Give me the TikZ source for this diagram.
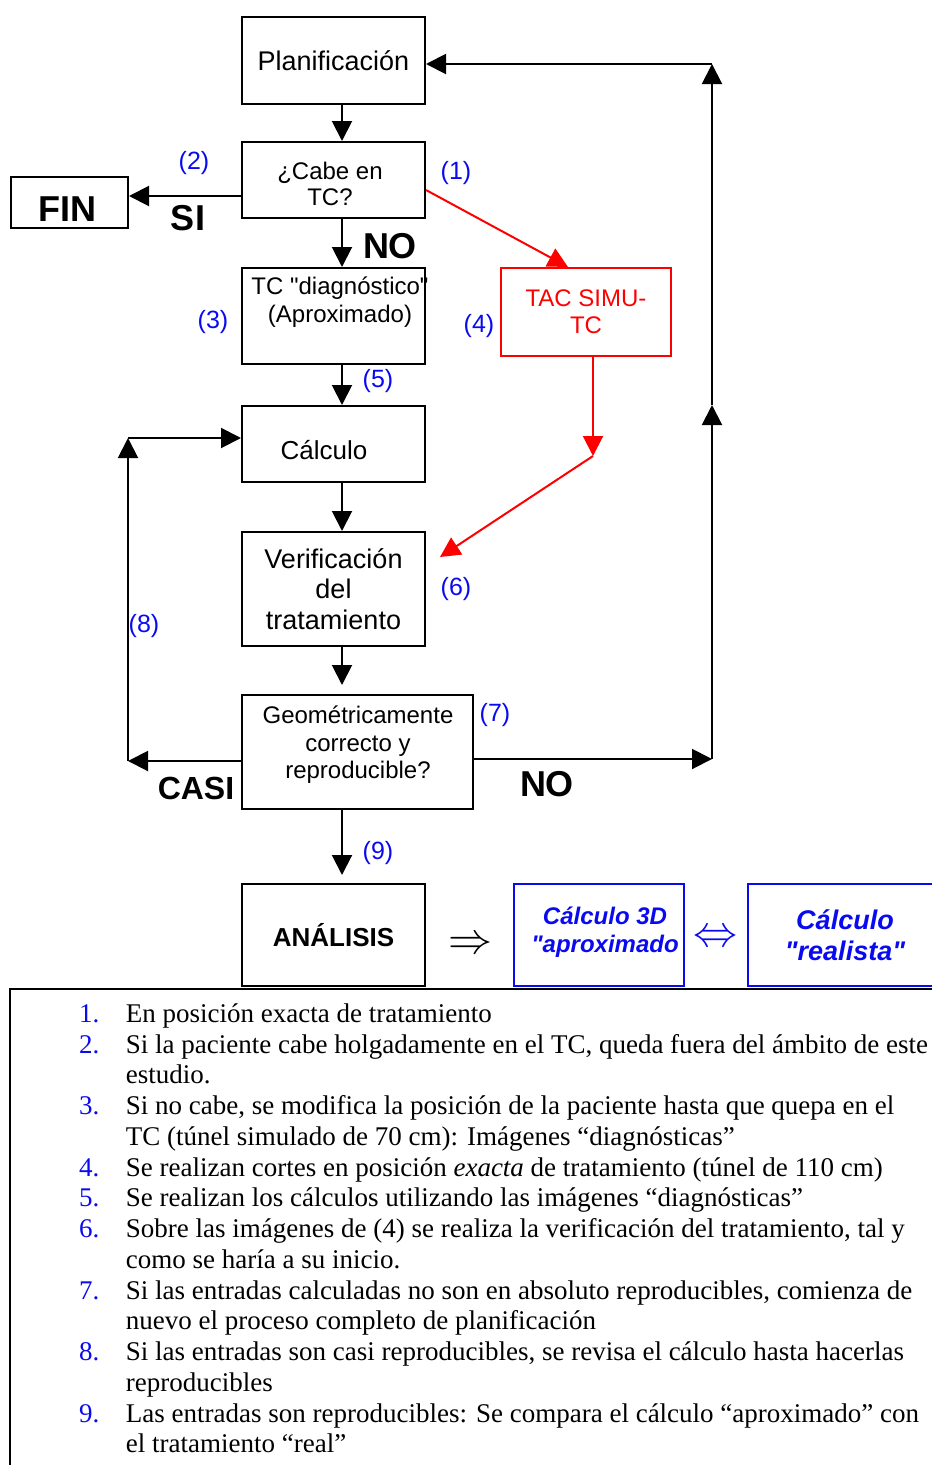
\RequirePackage{fix-cm}
\documentclass[tikz,border=0pt]{standalone}
\usepackage{fontspec}
\setmainfont{Liberation Serif}
\setsansfont{Liberation Sans}
\usepackage{xcolor}
\usepackage{array}
\usepackage{tikz}
\usetikzlibrary{arrows.meta,positioning,calc}
\definecolor{azul}{RGB}{10,10,240}
\definecolor{rojo}{RGB}{255,0,0}
\newcommand{\tam}[2]{\fontsize{#1}{#2}\selectfont}
\newcommand{\comi}{\textquotedbl}

\begin{document}
\begin{tikzpicture}[x=1pt,y=-1pt,
    caja/.style={draw,line width=2pt,inner sep=0pt,align=center,font=\sffamily\tam{24}{26}},
    cajaroja/.style={caja,draw=rojo,text=rojo,font=\sffamily\tam{24}{27}},
    cajaazul/.style={caja,draw=azul,text=azul},
    texto/.style={align=center,inner sep=0pt,font=\sffamily\tam{24}{28}},
    flecha/.style={line width=2pt,-{Triangle[length=20pt,width=20pt]}},
    flecharoja/.style={flecha,rojo},
    etiq/.style={inner sep=0pt,text=azul,font=\sffamily\tam{25}{28}},
    rotulo/.style={inner sep=0pt,font=\sffamily\bfseries\tam{36}{36}}]
    \useasboundingbox (0,0) rectangle (932,1465);

    % Main column of boxes
    \node[caja,minimum width=183,minimum height=87,font=\sffamily\tam{27}{31}] (plan) at (333.5,60.5) {Planificación};
    \node[caja,minimum width=183,minimum height=76] (cabe) at (333.5,180) {};
    \node[texto,font=\sffamily\tam{24}{26}] (cabetxt) at (330,184) {¿Cabe en\\TC?};
    \node[caja,minimum width=183,minimum height=96] (diag) at (333.5,316) {};
    \node[texto] (diagtxt) at (340,302) {TC \comi diagnóstico\comi\\(Aproximado)};
    \node[caja,minimum width=183,minimum height=76] (calc) at (333.5,444) {};
    \node[texto,font=\sffamily\tam{26}{30}] (calctxt) at (324,450) {Cálculo};
    \node[caja,minimum width=183,minimum height=114,font=\sffamily\tam{27}{30.5}] (verif) at (333.5,589) {Verificación\\del\\tratamiento};
    \node[caja,minimum width=231,minimum height=114] (geom) at (357.5,752) {};
    \node[texto,font=\sffamily\tam{24}{27.5}] (geomtxt) at (358,745) {Geométricamente\\correcto y\\reproducible?};
    \node[caja,minimum width=183,minimum height=102,font=\sffamily\bfseries\tam{26}{30}] (anal) at (333.5,935) {ANÁLISIS};

    % Side boxes
    \node[caja,minimum width=117,minimum height=51] (fin) at (69.5,202.5) {};
    \node[rotulo] (fintxt) at (67,209) {FIN};
    \node[cajaroja,minimum width=170,minimum height=88] (tac) at (586,312) {TAC SIMU-\\TC};

    % Bottom row
    \node[inner sep=0pt,font=\tam{44}{44}] (implica) at (470,945) {$\Rightarrow$};
    \node[cajaazul,minimum width=170,minimum height=102] (aprox) at (599,935) {};
    \node[texto,text=azul,font=\sffamily\bfseries\itshape\tam{24}{28}] (aproxtxt) at (605,932) {Cálculo 3D\\\comi aproximado};
    \node[inner sep=0pt,text=azul,font=\tam{44}{44}] (equiv) at (715,938) {$\Leftrightarrow$};
    \node[cajaazul,minimum width=194,minimum height=102,font=\sffamily\bfseries\itshape\tam{27}{31}] (real) at (845,935) {Cálculo\\\comi realista\comi};

    % Corners of the return loops
    \coordinate (esqcasi) at (128,761);
    \coordinate (esqcalc) at (128,438);
    \coordinate (esqno) at (712,759);
    \coordinate (medio) at (712,405);
    \coordinate (esqplan) at (712,64);
    \coordinate (codo) at (593,456);
    \coordinate (llegada) at (440,557);

    % Downward flow
    \draw[flecha] ([xshift=8.5]plan.south) -- ([xshift=8.5]cabe.north);
    \draw[flecha] ([xshift=8.5]cabe.south) -- ([xshift=8.5]diag.north);
    \draw[flecha] ([xshift=8.5]diag.south) -- ([xshift=8.5]calc.north);
    \draw[flecha] ([xshift=8.5]calc.south) -- ([xshift=8.5]verif.north);
    \draw[flecha,shorten >=9] ([xshift=8.5]verif.south) -- ([xshift=-15.5]geom.north);
    \draw[flecha,shorten >=8] ([xshift=-15.5]geom.south) -- ([xshift=8.5]anal.north);

    % SI branch
    \draw[flecha] ([yshift=-16]cabe.west) -- ([yshift=-16]cabe.west -| fin.east);

    % Simulated CT branch (red)
    \draw[flecharoja] ([yshift=-10]cabe.east) -- ([xshift=-18]tac.north);
    \draw[flecharoja] ([xshift=7]tac.south) -- (codo);
    \draw[flecharoja] (codo) -- (llegada);

    % CASI loop back to the calculation
    \draw[flecha] ([yshift=-9]geom.west) -- (esqcasi);
    \draw[flecha] (esqcasi) -- (esqcalc);
    \draw[flecha] (esqcalc) -- ([yshift=6]calc.west);

    % NO loop back to planning
    \draw[flecha] ([yshift=-7]geom.east) -- (esqno);
    \draw[flecha] (esqno) -- (medio);
    \draw[flecha] (medio) -- (esqplan);
    \draw[flecha] (esqplan) -- ([yshift=-3.5]plan.east);

    % Step numbers
    \node[etiq] (n1) at (456,173) {(1)};
    \node[etiq] (n2) at (194,163) {(2)};
    \node[etiq] (n3) at (213,322) {(3)};
    \node[etiq] (n4) at (479,326) {(4)};
    \node[etiq] (n5) at (378,381) {(5)};
    \node[etiq] (n6) at (456,589) {(6)};
    \node[etiq] (n7) at (495,715) {(7)};
    \node[etiq] (n8) at (144,626) {(8)};
    \node[etiq] (n9) at (378,853) {(9)};

    % Answers
    \node[rotulo] (si) at (188,218) {SI};
    \node[rotulo] (no1) at (390,246) {NO};
    \node[rotulo,font=\sffamily\bfseries\tam{32}{32}] (casi) at (196,788) {CASI};
    \node[rotulo] (no2) at (547,784) {NO};

    % Notes frame
    \draw[line width=1.5pt] (932,989) -- (10,989) -- (10,1465);

    % Notes
    \node[anchor=north west,inner sep=0pt,font=\tam{27}{30.76}] (lista) at (79,1000.5) {%
      \begin{tabular}{@{}p{46.7pt}@{}l@{}}
        \textcolor{azul}{1.} & En posición exacta de tratamiento\\
        \textcolor{azul}{2.} & Si la paciente cabe holgadamente en el TC, queda fuera del ámbito de este\\
          & estudio.\\
        \textcolor{azul}{3.} & Si no cabe, se modifica la posición de la paciente hasta que quepa en el\\
          & TC (túnel simulado de 70 cm): Imágenes “diagnósticas”\\
        \textcolor{azul}{4.} & Se realizan cortes en posición \textit{exacta} de tratamiento (túnel de 110 cm)\\
        \textcolor{azul}{5.} & Se realizan los cálculos utilizando las imágenes “diagnósticas”\\
        \textcolor{azul}{6.} & Sobre las imágenes de (4) se realiza la verificación del tratamiento, tal y\\
          & como se haría a su inicio.\\
        \textcolor{azul}{7.} & Si las entradas calculadas no son en absoluto reproducibles, comienza de\\
          & nuevo el proceso completo de planificación\\
        \textcolor{azul}{8.} & Si las entradas son casi reproducibles, se revisa el cálculo hasta hacerlas\\
          & reproducibles\\
        \textcolor{azul}{9.} & Las entradas son reproducibles: Se compara el cálculo “aproximado” con\\
          & el tratamiento “real”
      \end{tabular}};
\end{tikzpicture}
\end{document}
